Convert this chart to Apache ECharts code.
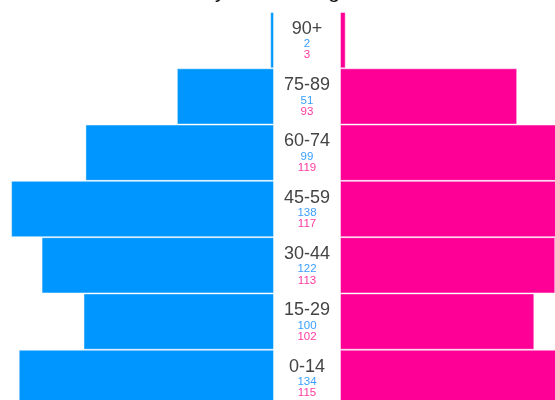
<!DOCTYPE html>
<html><head><meta charset="utf-8">
<script src="https://cdn.jsdelivr.net/npm/echarts@6/dist/echarts.min.js"></script>
<style>html,body{margin:0;padding:0;background:#fff}#c{width:555px;height:400px}</style>
</head><body><div id="c"></div>
<script>
const ageGroups = ['90+', '75-89', '60-74', '45-59', '30-44', '15-29', '0-14'];
const male = [2, 51, 99, 138, 122, 100, 134];
const female = [3, 93, 119, 117, 113, 102, 115];
const titleText = 'Population Pyramid\nby Sex and Age';

const chart = echarts.init(document.getElementById('c'));
const MAXV = 150;
const barStyle = (c) => ({ color: c, borderColor: 'rgba(255,255,255,0.45)', borderWidth: 1 });
chart.setOption({
  animation: false,
  title: { text: titleText, left: 'center', top: -52,
    textStyle: { fontFamily: 'Liberation Sans', fontSize: 21, fontWeight: 'normal', color: '#111', lineHeight: 26 } },
  grid: [
    { left: -11.75, right: 281, top: 12, bottom: -6, containLabel: false, outerBoundsMode: 'none' },
    { left: 340, right: -70.75, top: 12, bottom: -6, containLabel: false, outerBoundsMode: 'none' }
  ],
  xAxis: [
    { gridIndex: 0, type: 'value', min: 0, max: MAXV, inverse: true, show: false },
    { gridIndex: 1, type: 'value', min: 0, max: MAXV, show: false }
  ],
  yAxis: [
    { gridIndex: 0, type: 'category', data: ageGroups, inverse: true, show: false },
    { gridIndex: 1, type: 'category', data: ageGroups, inverse: true,
      axisLine: { show: false }, axisTick: { show: false }, splitLine: { show: false },
      axisLabel: {
        show: true, margin: 33, align: 'center', verticalAlign: 'middle',
        formatter: (v, i) => '{a|' + v + '}\n{m|' + male[i] + '}\n{f|' + female[i] + '}',
        rich: {
          a: { fontFamily: 'Liberation Sans', fontSize: 18, color: '#444', lineHeight: 19, align: 'center' },
          m: { fontFamily: 'Liberation Sans', fontSize: 11.5, color: '#3a9fff', lineHeight: 11.2, align: 'center' },
          f: { fontFamily: 'Liberation Sans', fontSize: 11.5, color: '#ff3a9f', lineHeight: 11.2, align: 'center' }
        }
      } }
  ],
  series: [
    { type: 'bar', xAxisIndex: 0, yAxisIndex: 0, data: male, barCategoryGap: 0, barWidth: '100%', itemStyle: barStyle('#0096ff') },
    { type: 'bar', xAxisIndex: 1, yAxisIndex: 1, data: female, barCategoryGap: 0, barWidth: '100%', itemStyle: barStyle('#ff0096') }
  ]
});
</script></body></html>
